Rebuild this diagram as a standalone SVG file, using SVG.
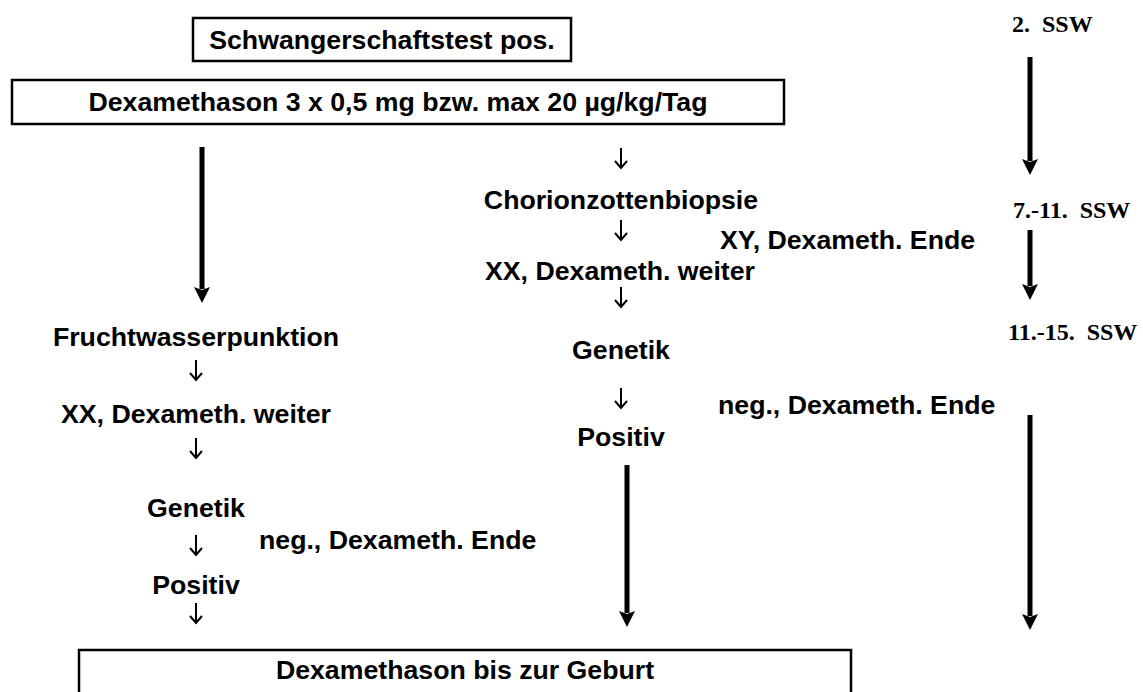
<svg xmlns="http://www.w3.org/2000/svg" width="1143" height="692" viewBox="0 0 1143 692">
<style>
  .box { fill: #ffffff; stroke: #000000; stroke-width: 2.5; }
  .t { font-family: "Liberation Sans", Arial, sans-serif; font-weight: bold; font-size: 26.7px; fill: #000000; }
  .c { text-anchor: middle; }
  .s { font-family: "Liberation Serif", "Times New Roman", serif; font-weight: bold; font-size: 24px; fill: #000000; white-space: pre; }
  .big { stroke: #000000; stroke-width: 5; fill: none; marker-end: url(#head); }
  .small { stroke: #000000; stroke-width: 2; fill: none; stroke-linejoin: miter; }
</style>
<defs>
  <marker id="head" viewBox="0 0 16 16" refX="2" refY="8" markerWidth="16" markerHeight="16" markerUnits="userSpaceOnUse" orient="auto">
    <path d="M0,0 L16,8 L0,16 L3,8 Z" fill="#000000"/>
  </marker>
  <path id="down" d="M0,-10 L0,10 M-6,3 L0,10 L6,3"/>
</defs>
<rect width="1143" height="692" fill="#ffffff"/>

<g id="connectors">
  <line class="big" x1="202" y1="147" x2="202" y2="289"/>
  <line class="big" x1="1030" y1="57" x2="1030" y2="161"/>
  <line class="big" x1="1030" y1="230" x2="1030" y2="286"/>
  <line class="big" x1="1030" y1="415" x2="1030" y2="616"/>
  <line class="big" x1="627" y1="465" x2="627" y2="613"/>
  <use href="#down" class="small" x="621" y="158"/>
  <use href="#down" class="small" x="621" y="230"/>
  <use href="#down" class="small" x="621" y="297"/>
  <use href="#down" class="small" x="621" y="398"/>
  <use href="#down" class="small" x="196" y="370"/>
  <use href="#down" class="small" x="196" y="448"/>
  <use href="#down" class="small" x="196" y="545"/>
  <use href="#down" class="small" x="196" y="613"/>
</g>

<g id="node-test">
  <rect class="box" x="193" y="18" width="378" height="43"/>
  <text class="t c" x="382" y="49">Schwangerschaftstest pos.</text>
</g>
<g id="node-dexa">
  <rect class="box" x="12" y="80" width="772" height="44"/>
  <text class="t c" x="398" y="111">Dexamethason 3 x 0,5 mg bzw. max 20 µg/kg/Tag</text>
</g>
<g id="node-cvs">
  <text class="t c" x="621" y="209">Chorionzottenbiopsie</text>
</g>
<g id="node-xy">
  <text class="t" x="720" y="249">XY, Dexameth. Ende</text>
</g>
<g id="node-xx-mid">
  <text class="t c" x="620" y="280">XX, Dexameth. weiter</text>
</g>
<g id="node-genetik-mid">
  <text class="t c" x="621" y="359">Genetik</text>
</g>
<g id="node-neg-mid">
  <text class="t" x="718" y="414">neg., Dexameth. Ende</text>
</g>
<g id="node-positiv-mid">
  <text class="t c" x="621" y="446">Positiv</text>
</g>
<g id="node-amnio">
  <text class="t c" x="196" y="346">Fruchtwasserpunktion</text>
</g>
<g id="node-xx-left">
  <text class="t c" x="196" y="423">XX, Dexameth. weiter</text>
</g>
<g id="node-genetik-left">
  <text class="t c" x="196" y="517">Genetik</text>
</g>
<g id="node-neg-left">
  <text class="t" x="259" y="549">neg., Dexameth. Ende</text>
</g>
<g id="node-positiv-left">
  <text class="t c" x="196" y="594">Positiv</text>
</g>
<g id="node-birth">
  <rect class="box" x="79" y="650" width="772" height="60"/>
  <text class="t c" x="465" y="679">Dexamethason bis zur Geburt</text>
</g>
<g id="node-ssw2">
  <text class="s" x="1012" y="32">2.  SSW</text>
</g>
<g id="node-ssw7">
  <text class="s" x="1013" y="218">7.-11.  SSW</text>
</g>
<g id="node-ssw11">
  <text class="s" x="1008" y="340">11.-15.  SSW</text>
</g>
</svg>
